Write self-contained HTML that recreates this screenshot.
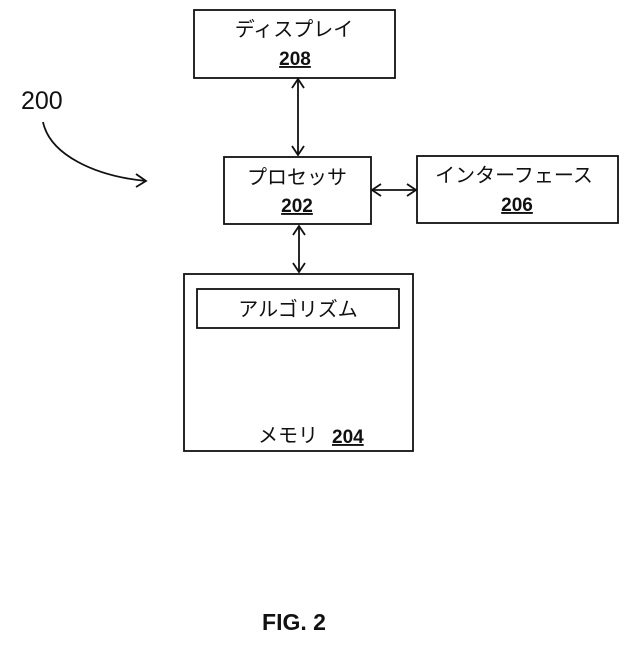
<!DOCTYPE html>
<html><head><meta charset="utf-8"><style>
html,body{margin:0;padding:0;background:#fff;}
svg text{font-family:"Liberation Sans","Noto Sans CJK JP",sans-serif;fill:#111;}
</style></head><body>
<svg width="640" height="640" viewBox="0 0 640 640" xmlns="http://www.w3.org/2000/svg">
<g fill="none" stroke="#111" stroke-width="1.8">
<rect x="194" y="10" width="201" height="68"/>
<rect x="224" y="157" width="147" height="67"/>
<rect x="417" y="156" width="201" height="67"/>
<rect x="184" y="274" width="229" height="177"/>
<rect x="197" y="289" width="202" height="39"/>
<line x1="298" y1="80" x2="298" y2="155"/>
<polyline points="292,88 298,79 304,88"/>
<polyline points="292,146 298,155 304,146"/>
<line x1="299" y1="226" x2="299" y2="272"/>
<polyline points="293,235 299,226 305,235"/>
<polyline points="293,263 299,272 305,263"/>
<line x1="372" y1="190" x2="416" y2="190"/>
<polyline points="381,184 372,190 381,196"/>
<polyline points="407,184 416,190 407,196"/>
<path d="M43,122 C50,155 95,176 146,181"/>
<polyline points="136,174 146,181 136,187"/>
</g>
<text x="294" y="36" font-size="20" text-anchor="middle">ディスプレイ</text>
<text x="295" y="65" font-size="19" font-weight="bold" text-anchor="middle" text-decoration="underline">208</text>
<text x="297" y="184" font-size="20" text-anchor="middle">プロセッサ</text>
<text x="297" y="212" font-size="19" font-weight="bold" text-anchor="middle" text-decoration="underline">202</text>
<text x="514" y="182" font-size="20" text-anchor="middle">インターフェース</text>
<text x="517" y="211" font-size="19" font-weight="bold" text-anchor="middle" text-decoration="underline">206</text>
<text x="298" y="316" font-size="20" text-anchor="middle">アルゴリズム</text>
<text x="258" y="442" font-size="20">メモリ</text>
<text x="332" y="443" font-size="19" font-weight="bold" text-decoration="underline">204</text>
<text x="21" y="109" font-size="25">200</text>
<text x="294" y="630" font-size="23" font-weight="bold" text-anchor="middle">FIG. 2</text>
</svg>
</body></html>
